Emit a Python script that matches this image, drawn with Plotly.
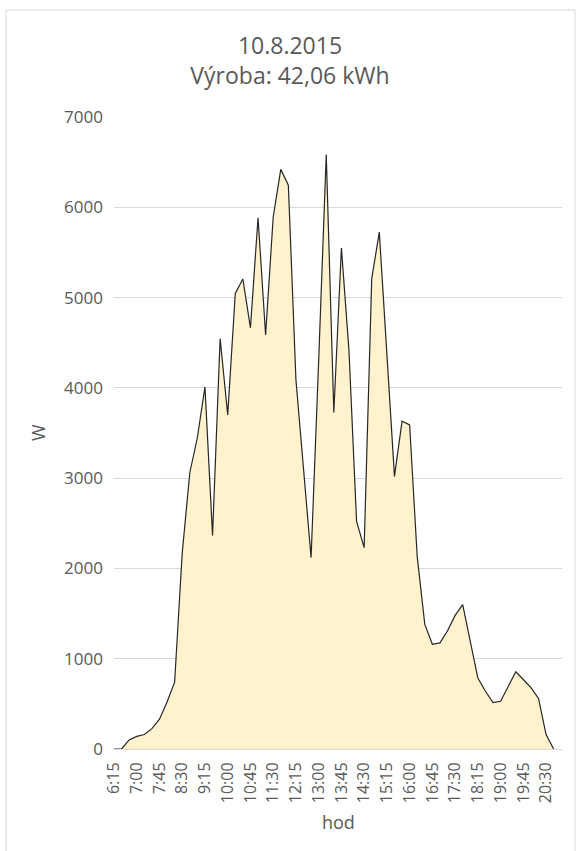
import plotly.graph_objects as go

times = ["6:15", "6:30", "6:45", "7:00", "7:15", "7:30", "7:45", "8:00", "8:15",
         "8:30", "8:45", "9:00", "9:15", "9:30", "9:45", "10:00", "10:15", "10:30",
         "10:45", "11:00", "11:15", "11:30", "11:45", "12:00", "12:15", "12:30",
         "12:45", "13:00", "13:15", "13:30", "13:45", "14:00", "14:15", "14:30",
         "14:45", "15:00", "15:15", "15:30", "15:45", "16:00", "16:15", "16:30",
         "16:45", "17:00", "17:15", "17:30", "17:45", "18:00", "18:15", "18:30",
         "18:45", "19:00", "19:15", "19:30", "19:45", "20:00", "20:15", "20:30",
         "20:45"]

power_w = [0, 0, 100, 140, 160, 225, 330, 520, 740,
           2170, 3060, 3450, 4010, 2365, 4545, 3700, 5045, 5205,
           4665, 5885, 4585, 5890, 6420, 6245, 4090, 3100,
           2120, 4300, 6585, 3727, 5550, 4410, 2520, 2230,
           5210, 5725, 4390, 3020, 3630, 3590, 2130, 1380,
           1160, 1175, 1310, 1480, 1600, 1200, 785, 640,
           513, 528, 700, 855, 770, 680, 560, 160,
           0]

tick_labels = times[::3]

title_line1 = "10.8.2015"
title_line2 = "Výroba: 42,06 kWh"
x_title = "hod"
y_title = "W"

FONT = "Open Sans"
TXT = "#595959"

fig = go.Figure()
fig.add_trace(go.Scatter(
    x=times, y=power_w, mode="lines",
    fill="tozeroy", fillcolor="#FFF2CC",
    line=dict(color="#262626", width=1.2),
    hoverinfo="x+y", showlegend=False,
))

W, H = 580, 851
L, R, T, B = 114, 18, 117, 102
pw = W - L - R
ph = H - T - B

def px_x(v):
    return (v - L) / pw

def px_y(v):
    return (H - B - v) / ph

fig.update_layout(
    width=W, height=H,
    margin=dict(l=L, r=R, t=T, b=B),
    paper_bgcolor="white", plot_bgcolor="white",
    font=dict(family=FONT, color=TXT),
    title=dict(text=title_line1 + "<br>" + title_line2, x=0.5, xref="container",
               xanchor="center", y=1 - 54 / H, yref="container", yanchor="middle",
               font=dict(size=23, color=TXT, family=FONT)),
    xaxis=dict(type="category", categoryorder="array", categoryarray=times,
               range=[0, 59.1], tickmode="array", tickvals=tick_labels,
               ticktext=tick_labels, tickangle=-90, tickfont=dict(size=16, color=TXT),
               showgrid=False, showline=True, linecolor="#D9D9D9", linewidth=1,
               ticks="", ticklabelstandoff=6, zeroline=False),
    yaxis=dict(range=[0, 7000], tickvals=[0, 1000, 2000, 3000, 4000, 5000, 6000, 7000],
               tickfont=dict(size=17, color=TXT), showgrid=True, gridcolor="#D9D9D9",
               gridwidth=1, zeroline=False, showline=False, ticks="",
               ticklabelstandoff=10),
    shapes=[dict(type="rect", xref="paper", yref="paper",
                 x0=px_x(6), x1=px_x(575), y0=px_y(860), y1=px_y(10),
                 line=dict(color="#D9D9D9", width=1), fillcolor="rgba(0,0,0,0)",
                 layer="below")],
    annotations=[
        dict(text=y_title, xref="paper", yref="paper", x=px_x(38), y=0.5,
             textangle=-90, showarrow=False, font=dict(size=18, color=TXT, family=FONT),
             xanchor="center", yanchor="middle"),
        dict(text=x_title, xref="paper", yref="paper", x=0.5, y=px_y(822),
             showarrow=False, font=dict(size=18, color=TXT, family=FONT),
             xanchor="center", yanchor="middle"),
    ],
)

fig.write_html(
    "out.html",
    config={"displayModeBar": False},
    post_script="document.body.style.margin='0';document.body.style.overflow='hidden';"
                "document.documentElement.style.overflow='hidden';",
)
